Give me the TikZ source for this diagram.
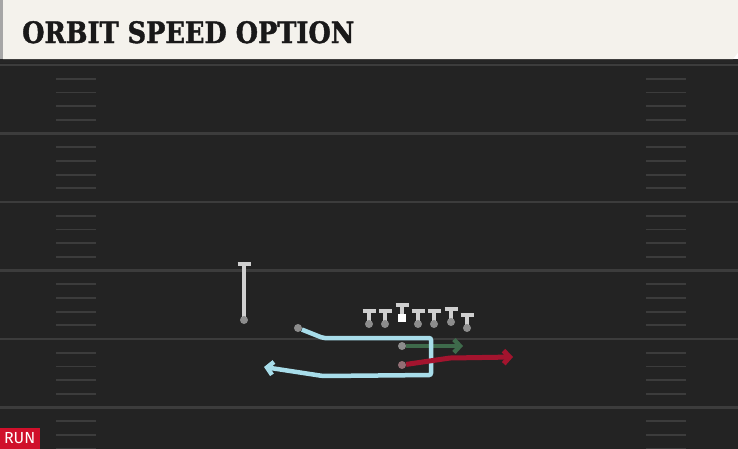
\documentclass[tikz,border=0pt]{standalone}
\usepackage{fontspec}
\newfontfamily\titlefont{DejaVu Serif}[BoldFeatures={FakeBold=1.5}]
\newfontfamily\tagfont{Fira Sans}
\usetikzlibrary{arrows.meta}
\definecolor{paper}{HTML}{F4F2EC}
\definecolor{turf}{HTML}{232323}
\definecolor{chalk}{HTML}{3C3C3C}
\definecolor{motion}{HTML}{A8DDEA}
\definecolor{speed}{HTML}{3E6A4B}
\definecolor{dive}{HTML}{A3142E}
\definecolor{helmet}{HTML}{8C8C8C}
\definecolor{stance}{HTML}{CFCFCF}
\definecolor{runred}{HTML}{D0102B}

\begin{document}
\begin{tikzpicture}[x=1pt,y=-1pt]
\tikzstyle{yardline}=[chalk,line width=2.2pt]
\tikzstyle{hashmark}=[chalk,line width=1.8pt]
\tikzstyle{player}=[circle,fill=helmet,inner sep=0pt,minimum size=8pt]
\tikzstyle{tstem}=[stance,line width=4pt]
\tikzstyle{tbar}=[stance,line width=3.5pt]
\tikzstyle{route}=[line width=4.5pt,-{Straight Barb[length=6pt,width=13pt]}]

\useasboundingbox (0,0) rectangle (738,448);

% ========= header
\fill[turf] (-2,59) rectangle (741,451);
\fill[black!85] (-2,59) rectangle (741,63);
\fill[paper] (3,-2) -- (741,-2) -- (741,49) -- (733,59) -- (3,59) -- cycle;
\fill[black!35] (-2,-2) rectangle (3,59);
\node (title) [anchor=base west,inner sep=0pt,xscale=0.87,text=black!90] at (22,43)
  {\titlefont\bfseries\fontsize{29.5}{29.5}\selectfont ORBIT SPEED OPTION};

% ========= field
\begin{scope}
\clip (-2,63) rectangle (741,451);
\foreach \j in {0,...,5} {
  \draw[yardline] (-2,65+68.5*\j) -- (741,65+68.5*\j);
  \foreach \i in {1,...,4} {
    \draw[hashmark] (56,65+68.5*\j+13.7*\i) -- (96,65+68.5*\j+13.7*\i);
    \draw[hashmark] (646,65+68.5*\j+13.7*\i) -- (686,65+68.5*\j+13.7*\i);
  }
}
\end{scope}

% ========= line
\foreach \name/\x/\y in {lt/369/324, lg/385/324, rg/418/324, rt/434/324, te/451/322, wt/467/328} {
  \draw[tstem] (\x,\y) -- (\x,\y-12);
  \draw[tbar] (\x-6.5,\y-13) -- (\x+6.5,\y-13);
  \node (\name) [player] at (\x,\y) {};
}
\draw[tstem] (402,318) -- (402,306);
\draw[tbar] (395.5,305) -- (408.5,305);
\node (ctr) [fill=white,minimum size=8.5pt,inner sep=0pt] at (402,318) {};

% ========= backs
\draw[tstem] (244,320) -- (244,265);
\draw[tbar] (237.5,264) -- (250.5,264);
\node (qb) [player] at (244,320) {};
\node (wr) [player] at (298,328) {};
\node (hb) [player] at (402,346) {};
\node (fb) [player,fill=helmet!75!dive] at (402,365) {};

% ====== routes
\coordinate (g1) at (463,346);
\draw[route,speed] (hb) -- (g1);

\coordinate (w1) at (323,338);
\coordinate (w2) at (431,338);
\coordinate (w3) at (431,375);
\coordinate (w4) at (323,376);
\coordinate (w5) at (264,367);
\draw[route,motion,rounded corners=2pt] (wr) -- (w1) -- (w2) -- (w3) -- (w4) -- (w5);

\coordinate (r1) at (450,358);
\coordinate (r2) at (513,357);
\draw[route,dive,line width=5pt] (fb) -- (r1) -- (r2);

%% ===== tag
\node (tag) [fill=runred,text=white,anchor=south west,minimum width=41pt,minimum height=21pt,inner sep=0pt,yshift=-1pt] at (-1,448)
  {\tagfont\fontsize{16}{16}\selectfont RUN};
\end{tikzpicture}
\end{document}
